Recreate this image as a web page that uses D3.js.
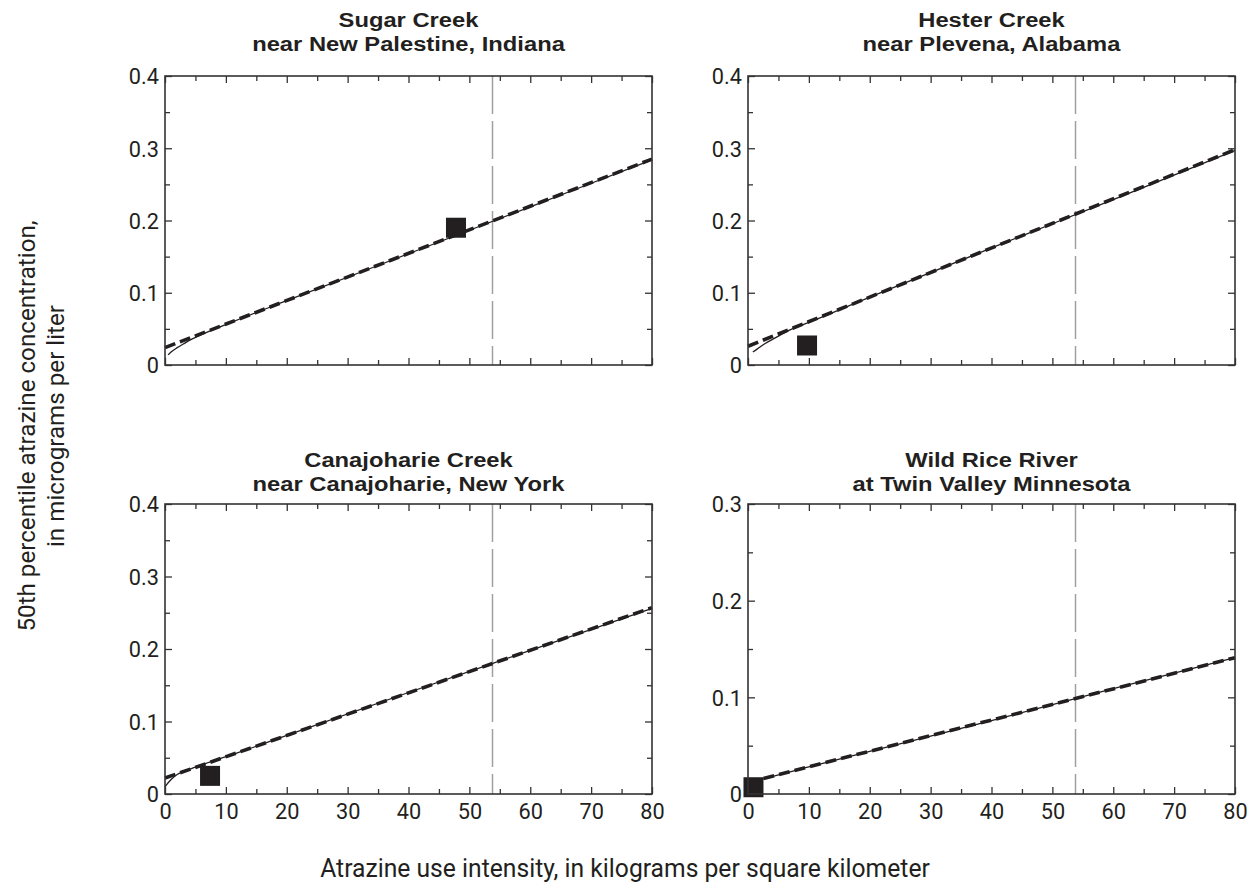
<!DOCTYPE html>
<html>
<head>
<meta charset="utf-8">
<script src="https://cdn.jsdelivr.net/npm/d3@7"></script>
<style>
  body { margin: 0; background: #fff; }
  svg text { fill: #231f20; }
  .reg { font-family: Roboto, "Liberation Sans", sans-serif; font-weight: 400; }
  .bold { font-family: "Liberation Sans", Roboto, sans-serif; font-weight: 700; }
</style>
</head>
<body>
<svg id="chart" width="1250" height="888"></svg>
<script>
// Monitoring sites, one panel each
const siteNames = ["Sugar Creek", "Hester Creek", "Canajoharie Creek", "Wild Rice River"];
const siteLocations = ["near New Palestine, Indiana", "near Plevena, Alabama", "near Canajoharie, New York", "at Twin Valley Minnesota"];

// Vertical extent of each panel and its labelled ticks
const yMax = [0.4, 0.4, 0.4, 0.3];
const yTicksFull = [0, 0.1, 0.2, 0.3, 0.4];
const yTickLabelsFull = ["0", "0.1", "0.2", "0.3", "0.4"];
const xTicks = [0, 10, 20, 30, 40, 50, 60, 70, 80];
const xTickLabels = ["0", "10", "20", "30", "40", "50", "60", "70", "80"];

// Linear model (heavy dashed line): predicted concentration at 0 and 80 kg/km²
const intensityRange = [0, 80];
const linearFitStart = [0.024, 0.026, 0.022, 0.012];
const linearFitEnd = [0.285, 0.298, 0.257, 0.141];

// Regression model (thin solid line): [use intensity, concentration]
const curveSugar = [[0.5, 0.014], [1, 0.018], [2, 0.024], [3, 0.029], [4, 0.034], [6, 0.042], [10, 0.056], [20, 0.089], [40, 0.154], [60, 0.219], [80, 0.284]];
const curveHester = [[0.8, 0.018], [1.5, 0.022], [2.5, 0.028], [3.5, 0.033], [5, 0.040], [7, 0.049], [10, 0.059], [20, 0.094], [40, 0.162], [60, 0.229], [80, 0.297]];
const curveCanajoharie = [[0, 0.010], [1, 0.020], [2, 0.027], [3, 0.031], [5, 0.037], [8, 0.046], [12, 0.057], [20, 0.081], [40, 0.140], [60, 0.198], [80, 0.256]];
const curveWildRice = [[0, 0.012], [2, 0.015], [10, 0.028], [20, 0.044], [40, 0.076], [60, 0.109], [80, 0.141]];
const regressionCurves = [curveSugar, curveHester, curveCanajoharie, curveWildRice];

// Observed median concentration at each site's actual use intensity
const observedUse = [47.8, 9.7, 7.4, 0.9];
const observedConc = [0.190, 0.027, 0.025, 0.007];

// Reference use intensity (vertical gray dashed line)
const referenceUse = 53.8;

const xTitle = "Atrazine use intensity, in kilograms per square kilometer";
const yTitleLines = ["50th percentile atrazine concentration,", "in micrograms per liter"];

// Panel geometry
const panelBoxes = [
  { left: 165, top: 76, width: 487, height: 289 },
  { left: 748, top: 76, width: 487, height: 289 },
  { left: 165, top: 504, width: 487, height: 290 },
  { left: 748, top: 504, width: 487, height: 290 }
];
const titleBaselines = [27, 27, 467, 467];

const ink = "#231f20";
const frameColor = "#333";
const svg = d3.select("#chart");

// Narrow the typefaces to a condensed set width: measure a sample string
// and derive a horizontal squeeze applied to every text of that style.
function squeezeFor(cls, size, str, targetWidth) {
  const t = svg.append("text").attr("class", cls).attr("font-size", size).text(str);
  const w = t.node().getComputedTextLength();
  t.remove();
  return targetWidth / w;
}
const regSqueeze = squeezeFor("reg", 25, xTitle, 610);
const boldSqueeze = squeezeFor("bold", 21, siteLocations[0], 313);

panelBoxes.forEach((box, i) => {
  const g = svg.append("g").attr("transform", `translate(${box.left},${box.top})`);
  const x = d3.scaleLinear().domain(intensityRange).range([0, box.width]);
  const y = d3.scaleLinear().domain([0, yMax[i]]).range([box.height, 0]);

  const yMajor = yTicksFull.filter(v => v <= yMax[i] + 1e-9);
  const yMinor = d3.range(0.05, yMax[i], 0.1);
  const xMinor = d3.range(5, 80, 10);

  // Inward tick marks on all four sides
  const addAxis = (axis, transform, showLabels) => {
    const a = g.append("g").attr("transform", transform).call(axis);
    a.select(".domain").remove();
    a.selectAll(".tick line").attr("stroke", frameColor).attr("stroke-width", 1.3);
    if (!showLabels) a.selectAll(".tick text").remove();
    return a;
  };

  const labelBottom = i >= 2;
  const bx = addAxis(d3.axisBottom(x).tickValues(xTicks).tickSize(-7).tickFormat((d, k) => xTickLabels[k]),
    `translate(0,${box.height})`, labelBottom);
  bx.selectAll(".tick text")
    .attr("class", "reg").attr("dy", 0).attr("y", 0).attr("font-size", 22)
    .attr("transform", `translate(0,25) scale(${regSqueeze},1)`);
  addAxis(d3.axisBottom(x).tickValues(xMinor).tickSize(-5).tickFormat(""), `translate(0,${box.height})`, false);
  addAxis(d3.axisTop(x).tickValues(xTicks).tickSize(-7).tickFormat(""), "translate(0,0)", false);
  addAxis(d3.axisTop(x).tickValues(xMinor).tickSize(-5).tickFormat(""), "translate(0,0)", false);

  const ly = addAxis(d3.axisLeft(y).tickValues(yMajor).tickSize(-7).tickFormat((d, k) => yTickLabelsFull[k]),
    "translate(0,0)", true);
  ly.selectAll(".tick text")
    .attr("class", "reg").attr("x", 0).attr("dy", "0.36em").attr("font-size", 22)
    .attr("transform", `translate(-6,0) scale(${regSqueeze},1)`);
  addAxis(d3.axisLeft(y).tickValues(yMinor).tickSize(-5).tickFormat(""), "translate(0,0)", false);
  addAxis(d3.axisRight(y).tickValues(yMajor).tickSize(-7).tickFormat(""), `translate(${box.width},0)`, false);
  addAxis(d3.axisRight(y).tickValues(yMinor).tickSize(-5).tickFormat(""), `translate(${box.width},0)`, false);

  // Reference use intensity
  g.append("line")
    .attr("x1", x(referenceUse)).attr("x2", x(referenceUse))
    .attr("y1", 0).attr("y2", box.height)
    .attr("stroke", "#a0a0a0").attr("stroke-width", 1.5)
    .attr("stroke-dasharray", "38,7");

  // Thin solid regression curve
  const line = d3.line().x(d => x(d[0])).y(d => y(d[1])).curve(d3.curveMonotoneX);
  g.append("path")
    .datum(regressionCurves[i])
    .attr("d", line)
    .attr("fill", "none").attr("stroke", ink).attr("stroke-width", 1.3);

  // Heavy dashed linear model
  g.append("path")
    .datum([[intensityRange[0], linearFitStart[i]], [intensityRange[1], linearFitEnd[i]]])
    .attr("d", d3.line().x(d => x(d[0])).y(d => y(d[1])))
    .attr("fill", "none").attr("stroke", ink).attr("stroke-width", 3.6)
    .attr("stroke-dasharray", "11,5");

  // Observed value
  const side = 20;
  g.append("rect")
    .attr("x", x(observedUse[i]) - side / 2)
    .attr("y", y(observedConc[i]) - side / 2)
    .attr("width", side).attr("height", side)
    .attr("fill", ink);

  // Frame
  g.append("rect")
    .attr("width", box.width).attr("height", box.height)
    .attr("fill", "none").attr("stroke", frameColor).attr("stroke-width", 1.6);

  // Two-line site title
  const cx = box.left + box.width / 2;
  const title = svg.append("text")
    .attr("class", "bold")
    .attr("transform", `translate(${cx},${titleBaselines[i]}) scale(${boldSqueeze},1)`)
    .attr("text-anchor", "middle")
    .attr("font-size", 21);
  title.append("tspan").attr("x", 0).attr("y", 0).text(siteNames[i]);
  title.append("tspan").attr("x", 0).attr("y", 24).text(siteLocations[i]);
});

// Shared axis titles
const yTitle = svg.append("text")
  .attr("class", "reg")
  .attr("transform", `translate(35,426) rotate(-90) scale(${regSqueeze},1)`)
  .attr("text-anchor", "middle").attr("font-size", 24.5);
yTitle.append("tspan").attr("x", 0).attr("y", 0).text(yTitleLines[0]);
yTitle.append("tspan").attr("x", 0).attr("y", 29).text(yTitleLines[1]);

svg.append("text")
  .attr("class", "reg")
  .attr("transform", `translate(625,877) scale(${regSqueeze},1)`)
  .attr("text-anchor", "middle").attr("font-size", 25)
  .text(xTitle);
</script>
</body>
</html>
